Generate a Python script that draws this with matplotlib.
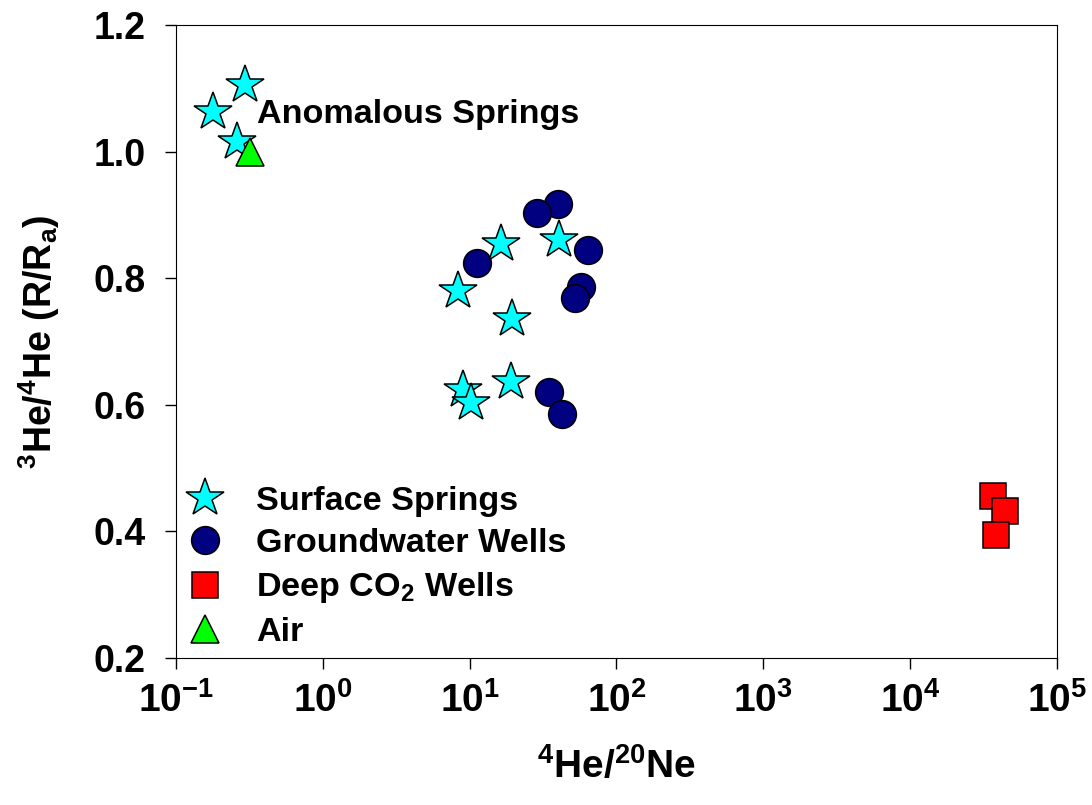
#Razao isotopica 3He/4He contra 4He/20Ne

import matplotlib.pyplot as plt
from matplotlib.ticker import FixedLocator, NullLocator

plt.rcParams['font.family'] = ['Liberation Sans', 'DejaVu Sans']
plt.rcParams['font.weight'] = 'bold'
plt.rcParams['axes.labelweight'] = 'bold'
plt.rcParams['mathtext.fontset'] = 'custom'
plt.rcParams['mathtext.rm'] = 'Liberation Sans:bold'
plt.rcParams['mathtext.it'] = 'Liberation Sans:bold'
plt.rcParams['mathtext.bf'] = 'Liberation Sans:bold'
plt.rcParams['mathtext.default'] = 'rm'

# dados
springs_x = [0.294, 0.179, 0.263, 16.3, 40.9, 8.4, 19.3, 9.0, 10.3, 19.0]
springs_y = [1.105, 1.063, 1.015, 0.854, 0.860, 0.780, 0.735, 0.623, 0.603, 0.636]

wells_x = [39.7, 28.6, 64.5, 11.3, 57.8, 52.6, 34.5, 42.9]
wells_y = [0.917, 0.903, 0.845, 0.824, 0.786, 0.769, 0.620, 0.585]

co2_x = [36700, 44300, 38500]
co2_y = [0.456, 0.432, 0.394]

air_x = [0.318]
air_y = [1.0]

xticks = [0.1, 1, 10, 100, 1000, 10000, 100000]
xlabels = [r'$10^{-1}$', r'$10^{0}$', r'$10^{1}$', r'$10^{2}$', r'$10^{3}$', r'$10^{4}$', r'$10^{5}$']
yticks = [0.2, 0.4, 0.6, 0.8, 1.0, 1.2]


def main():
    fig = plt.figure(figsize=(10.92, 8.05), dpi=100)
    ax = fig.add_axes([0.161, 0.1826, 0.807, 0.7864])

    s1, = ax.plot(springs_x, springs_y, linestyle='none', marker='*', markersize=29,
                  markerfacecolor='#00FFFF', markeredgecolor='black', markeredgewidth=1.1,
                  zorder=4, label='Surface Springs')
    s2, = ax.plot(wells_x, wells_y, linestyle='none', marker='o', markersize=20,
                  markerfacecolor='#000080', markeredgecolor='black', markeredgewidth=1.1,
                  zorder=3, label='Groundwater Wells')
    s3, = ax.plot(co2_x, co2_y, linestyle='none', marker='s', markersize=18.5,
                  markerfacecolor='#FF0000', markeredgecolor='black', markeredgewidth=1.1,
                  zorder=5, label='Deep CO$_2$ Wells')
    s4, = ax.plot(air_x, air_y, linestyle='none', marker='^', markersize=20,
                  markerfacecolor='#00FF00', markeredgecolor='black', markeredgewidth=1.1,
                  zorder=6, label='Air')

    ax.text(0.356, 1.045, 'Anomalous Springs', fontsize=24.6, fontweight='bold',
            va='baseline', ha='left')

    ax.set_xscale('log')
    ax.set_xlim(0.1, 100000)
    ax.set_ylim(0.2, 1.2)
    ax.xaxis.set_major_locator(FixedLocator(xticks))
    ax.xaxis.set_minor_locator(NullLocator())
    ax.set_xticklabels(xlabels)
    ax.set_yticks(yticks)
    ax.set_yticklabels(['%.1f' % v for v in yticks])
    ax.tick_params(axis='both', direction='out', length=8, width=1)
    ax.tick_params(axis='x', pad=9, labelsize=28)
    ax.tick_params(axis='y', pad=14, labelsize=27)

    ax.set_xlabel(r'$^{4}$He/$^{20}$Ne', fontsize=28, labelpad=20)
    ax.set_ylabel(r'$^{3}$He/$^{4}$He (R/R$_a$)', fontsize=27, labelpad=22)

    ax.legend(handles=[s1, s2, s3, s4], loc='lower left', bbox_to_anchor=(0.0, 0.0),
              frameon=False, fontsize=24.6, handlelength=1.1, handletextpad=0.95,
              labelspacing=0.33, borderaxespad=0.1, borderpad=0.2)

    plt.savefig('out.png', dpi=100)


if __name__ == "__main__":
    main()
